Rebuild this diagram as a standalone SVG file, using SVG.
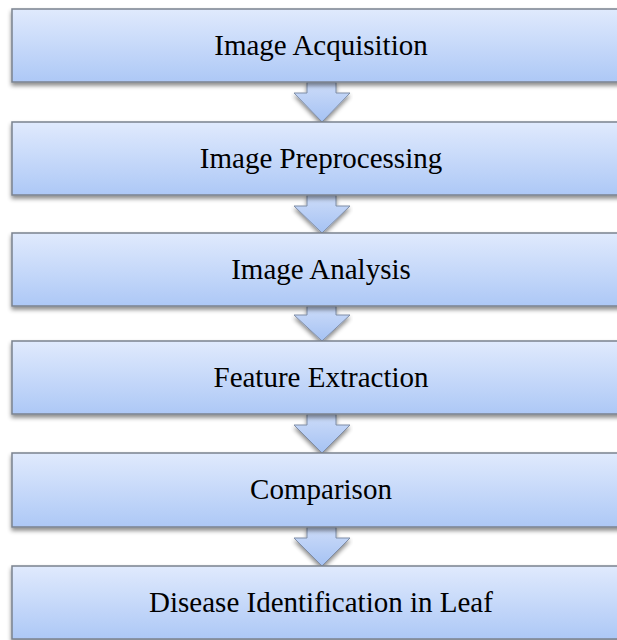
<svg xmlns="http://www.w3.org/2000/svg" width="617" height="640" viewBox="0 0 617 640">
<defs>
<linearGradient id="boxg" x1="0" y1="0" x2="0" y2="1">
<stop offset="0" stop-color="#e0eafd"/>
<stop offset="1" stop-color="#adc8f6"/>
</linearGradient>
<linearGradient id="arrg" x1="0" y1="0" x2="0" y2="1">
<stop offset="0" stop-color="#cddcf9"/>
<stop offset="1" stop-color="#a5c2f3"/>
</linearGradient>
<filter id="sh" x="-5%" y="-10%" width="110%" height="130%">
<feDropShadow dx="0" dy="3" stdDeviation="2" flood-color="#000" flood-opacity="0.45"/>
</filter>
</defs>
<style>
.box{fill:url(#boxg);stroke:#7b828e;stroke-width:1.5;filter:url(#sh)}
.arr{fill:url(#arrg);stroke:#7f8da6;stroke-width:1;filter:url(#sh)}
.lbl{font-family:"Liberation Serif","Times New Roman",serif;font-size:29px;fill:#000;text-anchor:middle}
</style>
<rect width="617" height="640" fill="#fff"/>
<g id="connectors">
<path class="arr" d="M307,82 V93 H294 L322,122 L350,93 H336 V82 Z"/>
<path class="arr" d="M307,195 V206 H294 L322,233 L350,206 H336 V195 Z"/>
<path class="arr" d="M307,306 V315 H294 L322,341 L350,315 H336 V306 Z"/>
<path class="arr" d="M307,414 V425 H294 L322,453 L350,425 H336 V414 Z"/>
<path class="arr" d="M307,527 V538 H294 L322,566 L350,538 H336 V527 Z"/>
</g>
<g id="n1"><rect class="box" x="12" y="9" width="622" height="73"/><text class="lbl" x="321" y="55">Image Acquisition</text></g>
<g id="n2"><rect class="box" x="12" y="122" width="622" height="73"/><text class="lbl" x="321" y="168">Image Preprocessing</text></g>
<g id="n3"><rect class="box" x="12" y="233" width="622" height="73"/><text class="lbl" x="321" y="279">Image Analysis</text></g>
<g id="n4"><rect class="box" x="12" y="341" width="622" height="73"/><text class="lbl" x="321" y="387">Feature Extraction</text></g>
<g id="n5"><rect class="box" x="12" y="453" width="622" height="74"/><text class="lbl" x="321" y="499">Comparison</text></g>
<g id="n6"><rect class="box" x="12" y="566" width="622" height="73"/><text class="lbl" x="321" y="612">Disease Identification in Leaf</text></g>
</svg>
